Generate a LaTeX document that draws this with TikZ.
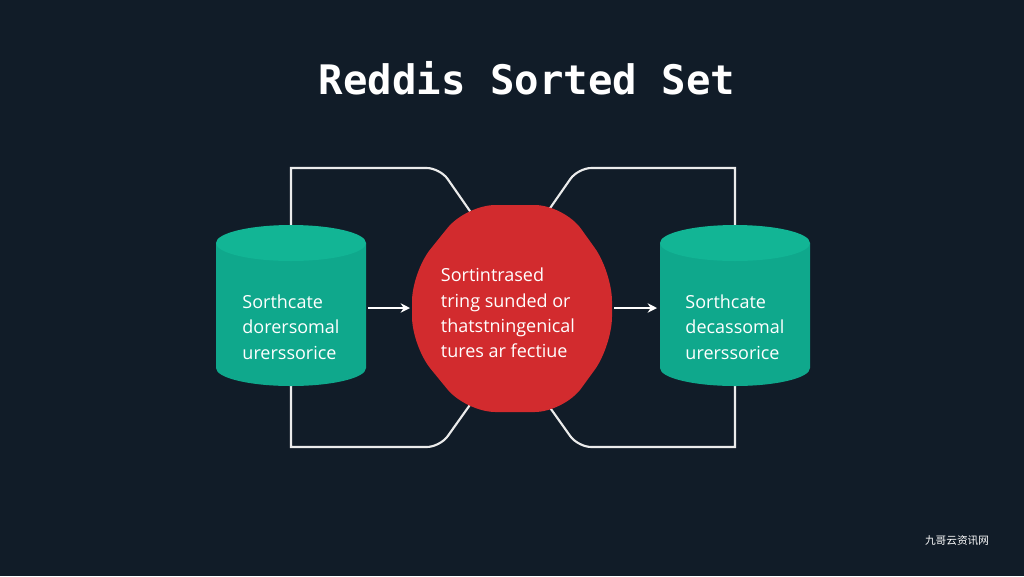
\documentclass[tikz,border=0pt]{standalone}
\usepackage{fontspec}
\setmainfont{Open Sans}
\newfontfamily\titlefont{DejaVu Sans Mono}
\newfontfamily\cjk{Noto Sans CJK SC}
\usetikzlibrary{arrows.meta}
\usetikzlibrary{positioning}
\definecolor{bgdark}{HTML}{111C28}
\definecolor{tealside}{HTML}{0FA88C}
\definecolor{tealtop}{HTML}{12B595}
\definecolor{redoct}{HTML}{D22B2E}
\tikzset{
  wire/.style={draw=white!92!black, line width=1.6pt},
  flow/.style={draw=white, line width=1.6pt, -{Stealth[length=7pt,width=7pt]}},
  label/.style={text=white, font=\fontsize{13.5}{19}\selectfont, align=left}
}
\begin{document}
\begin{tikzpicture}[x=0.75pt,y=-0.75pt]
\fill[bgdark] (0,0) rectangle (1024,576);
\useasboundingbox (0,0) rectangle (1024,576);

\node[text=white, font=\titlefont\bfseries\fontsize{30.5}{32}\selectfont] (title) at (527,78) {Reddis Sorted Set};

% wires behind the shapes
\coordinate (LT) at (291,240);
\coordinate (LB) at (291,380);
\coordinate (RT) at (735,240);
\coordinate (RB) at (735,380);
\coordinate (OTL) at (472,214);
\coordinate (OBL) at (472,402);
\coordinate (OTR) at (546,214);
\coordinate (OBR) at (546,402);
\draw[wire] (LT) -- (291,168) [rounded corners=10pt] -- (440,168) -- (OTL);
\draw[wire] (LB) -- (291,447) [rounded corners=10pt] -- (440,447) -- (OBL);
\draw[wire] (RT) -- (735,168) [rounded corners=10pt] -- (578,168) -- (OTR);
\draw[wire] (RB) -- (735,447) [rounded corners=10pt] -- (578,447) -- (OBR);

% cylinders
\foreach \cx/\nm in {291/left, 735/right}{
  \fill[tealside] (\cx-75,243) -- (\cx-75,368) arc[start angle=180, end angle=360, x radius=75, y radius=-18] -- (\cx+75,243) -- cycle;
  \fill[tealtop] (\cx,243) ellipse [x radius=75, y radius=18];
}
\node[label] (left) at (291,327) {Sorthcate\\dorersomal\\urerssorice};
\node[label] (right) at (735,327) {Sorthcate\\decassomal\\urerssorice};

% octagon
\fill[redoct, rounded corners=22pt] (466,205) -- (564,205) -- (612,272) -- (612,346) -- (564,412) -- (466,412) -- (412,346) -- (412,272) -- cycle;
\node[label] (mid) at (508,313) {Sortintrased\\tring sunded or\\thatstningenical\\tures ar fectiue};

\coordinate (LA) at (368,308);
\coordinate (MA) at (410,308);
\coordinate (MB) at (614,308);
\coordinate (RA) at (657,308);
\draw[flow] (LA) -- (MA);
\draw[flow] (MB) -- (RA);

\node[text=white, font=\cjk\fontsize{8}{9}\selectfont] (mark) at (957,541) {九哥云资讯网};
\end{tikzpicture}
\end{document}
